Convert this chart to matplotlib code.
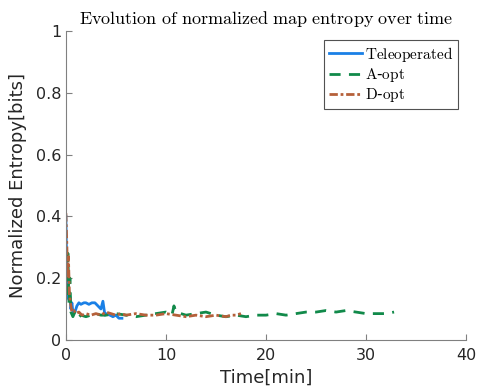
import matplotlib
matplotlib.use("Agg")
import matplotlib.pyplot as plt

plt.rcParams["mathtext.fontset"] = "cm"

# Teleoperated run
tele_t = [0, 0.1, 0.2, 0.3, 0.4, 0.5, 0.6, 0.7, 0.9, 1.1, 1.3,
          1.5, 1.8, 2.0, 2.3, 2.6, 2.9, 3.2, 3.5, 3.7, 3.9, 4.1, 4.4, 4.7, 5.0,
          5.3, 5.6]
tele_v = [0.40, 0.20, 0.14, 0.13, 0.14, 0.10, 0.12, 0.09, 0.09,
          0.11, 0.12, 0.115, 0.12, 0.12, 0.115, 0.12, 0.12, 0.11, 0.10, 0.125,
          0.08, 0.085, 0.08, 0.075, 0.08, 0.07, 0.07]

# A-optimality run
aopt_t = [0, 0.05, 0.12, 0.2, 0.3, 0.4, 0.5, 0.7, 0.9, 1.2, 1.5, 2.0,
          2.5, 3.0, 3.5, 4.0, 5.0, 6.0, 7.0, 8.0, 9.0, 10.0, 10.6, 10.8, 11.0,
          12.0, 13.0, 14.0, 15.0, 16.0, 17.0, 18.0, 19.0, 20.0, 21.0, 22.0,
          23.0, 24.0, 25.0, 26.0, 27.0, 28.0, 29.0, 30.0, 31.0, 32.0, 32.8]
aopt_v = [0.30, 0.29, 0.15, 0.28, 0.12, 0.20, 0.09, 0.075, 0.09,
          0.07, 0.08, 0.075, 0.08, 0.085, 0.08, 0.08, 0.085, 0.08, 0.075, 0.08,
          0.085, 0.09, 0.08, 0.11, 0.09, 0.08, 0.085, 0.09, 0.08, 0.075, 0.08,
          0.075, 0.08, 0.08, 0.085, 0.08, 0.085, 0.09, 0.09, 0.095, 0.09,
          0.095, 0.09, 0.085, 0.085, 0.085, 0.09]

# D-optimality run
dopt_t = [0, 0.1, 0.15, 0.25, 0.35, 0.45, 0.6, 0.8, 1.0, 1.3, 1.6, 2.0,
          2.5, 3.0, 3.5, 4.0, 4.5, 5.0, 5.5, 6.0, 7.0, 8.0, 9.0, 10.0, 11.0,
          12.0, 13.0, 14.0, 15.0, 16.0, 16.5, 17.0, 17.5]
dopt_v = [0.41, 0.30, 0.20, 0.27, 0.15, 0.12, 0.09, 0.095, 0.085,
          0.09, 0.08, 0.085, 0.08, 0.085, 0.08, 0.09, 0.085, 0.08, 0.085, 0.08,
          0.085, 0.08, 0.08, 0.085, 0.08, 0.075, 0.08, 0.075, 0.08, 0.075,
          0.08, 0.08, 0.085]

fig = plt.figure(figsize=(4.81, 3.92), dpi=100)
ax = fig.add_axes([0.137, 0.133, 0.832, 0.788])

ax.plot(tele_t, tele_v, color="#1a80e6", lw=2.0, ls="-",
        label=r"$\mathrm{Teleoperated}$")
ax.plot(aopt_t, aopt_v, color="#118a4a", lw=2.0, ls=(0, (4, 3)),
        label=r"$\mathrm{A}$-$\mathrm{opt}$")
ax.plot(dopt_t, dopt_v, color="#b5603a", lw=2.0, ls=(0, (3, 1, 1, 1)),
        label=r"$\mathrm{D}$-$\mathrm{opt}$")

ax.set_xlim(0, 40)
ax.set_ylim(0, 1)
ax.set_xticks([0, 10, 20, 30, 40])
ax.set_yticks([0, 0.2, 0.4, 0.6, 0.8, 1])
ax.set_yticklabels(["0", "0.2", "0.4", "0.6", "0.8", "1"])

for side in ["top", "right"]:
    ax.spines[side].set_visible(False)
for side in ["left", "bottom"]:
    ax.spines[side].set_color("#808080")
ax.tick_params(direction="in", length=4, colors="#808080", labelsize=11.5,
               labelcolor="#262626")
ax.tick_params(axis="x", pad=6)

ax.set_xlabel("Time[min]", fontsize=13, color="#262626", labelpad=4)
ax.set_ylabel("Normalized Entropy[bits]", fontsize=13, color="#262626", labelpad=6)
ax.set_title(r"$\mathrm{Evolution\ of\ normalized\ map\ entropy\ over\ time}$",
             fontsize=13, pad=5)

leg = ax.legend(loc="upper right", bbox_to_anchor=(0.98, 0.97), fontsize=11,
                frameon=True, fancybox=False, handlelength=2.2,
                borderpad=0.3, labelspacing=0.15, handletextpad=0.2,
                borderaxespad=0)
leg.get_frame().set_edgecolor("#262626")
leg.get_frame().set_linewidth(0.8)

fig.savefig("out.png", dpi=100)
